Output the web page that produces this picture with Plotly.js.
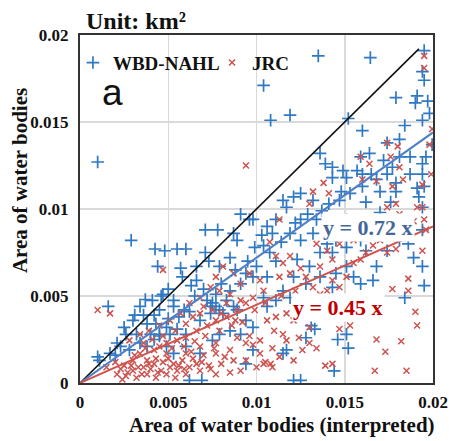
<!DOCTYPE html>
<html>
<head>
<meta charset="utf-8">
<script src="https://cdn.plot.ly/plotly-3.0.1.min.js"></script>
<style>html,body{margin:0;padding:0;background:#fff;}#chart{width:463px;height:441px;}</style>
</head>
<body>
<div id="chart"></div>
<script>
// WBD-NAHL points (x = interpreted area, y = dataset area), km²
const wbdX = [
0.0010,0.0135,0.01645,0.0195,0.0104,0.0108,0.0119,0.0152,0.0179,0.0191,
0.0190,0.0195,0.0194,0.0197,0.0198,0.0194,0.0160,0.0184,0.01995,0.0196,
0.0194,0.0194,0.0195,0.0194,0.0194,0.0194,0.0195,0.0184,0.0189,0.0186,
0.0181,0.0029,0.0016,0.0010,
0.00425,0.0055,0.0060,0.0044,0.0057,0.0071,0.0078,0.0091,0.0087,0.0089,
0.0071,0.0073,0.0079,0.0085,0.0066,0.0058,0.0047,0.0041,0.0053,0.0034,
0.0045,0.0053,0.0059,0.0030,0.0038,0.0043,0.0049,0.0055,0.0026,0.0032,
0.0040,0.0045,0.0051,0.0034,0.0028,0.0023,0.0021,0.0017,0.0011,0.0038,
0.0042,0.0060,0.0068,0.0074,0.0077,0.0081,0.0087,0.0072,0.0085,0.0091,
0.0098,0.0106,0.0094,0.0100,0.0111,0.01075,0.0104,0.0109,0.0106,0.0098,
0.0111,0.0117,0.0115,0.0121,0.0125,0.0132,0.0129,0.0134,0.0125,0.0119,
0.0125,0.0132,0.0140,0.0143,0.0136,0.0123,0.0130,0.0136,0.0145,0.0143,
0.0128,0.0121,0.0115,0.0151,0.0155,0.0159,0.0166,0.0168,0.0162,0.0159,
0.0151,0.0145,0.0164,0.0174,0.0147,0.0153,0.0160,0.0168,0.0174,0.0177,
0.0181,0.0174,0.0181,0.0159,0.0164,0.0157,0.0160,0.0149,0.0143,0.0139,
0.0136,0.0143,0.0151,0.0172,0.0187,0.0187,0.0179,0.0176,0.0170,0.0162,
0.0151,0.0179,0.0170,0.0191,0.0192,
0.0098,0.0094,0.0121,0.0125,0.0062,0.0069,0.0144,0.0146,0.0151,0.0152,
0.0131,0.0133,0.0128,0.0117,0.0115,0.0106,0.0111,0.0104,0.0119,0.0094,
0.0085,0.0075,0.0079,0.0091,0.0098,0.0068,0.0060,0.0053,0.0049,0.0045,
0.0075,0.0079,0.0074,0.0089,0.0083,0.0077,0.0020,0.0036,0.0046,0.0063,
0.0050,0.0066,0.0048,0.0096,
0.0025,0.0031,0.0037,0.0042,0.0050,0.0056,0.0062,0.0065,0.0070,0.0080,
0.0088,0.0095,0.0099,0.0103,0.0114,0.0122,0.0137,0.0141,0.0148,0.0165
];
const wbdY = [
0.0127,0.0188,0.0187,0.0191,0.0171,0.0151,0.0154,0.0152,0.0164,0.0165,
0.0161,0.0174,0.0179,0.0162,0.0155,0.0151,0.0145,0.0148,0.0137,0.0130,
0.0126,0.0120,0.0113,0.0101,0.0088,0.0067,0.0056,0.0049,0.0072,0.0080,
0.0082,0.0082,0.0044,0.0015,
0.0077,0.0077,0.0077,0.0067,0.0066,0.0088,0.0088,0.0097,0.0086,0.0082,
0.0075,0.0070,0.0067,0.0072,0.0067,0.0061,0.0051,0.00475,0.00475,0.0044,
0.0042,0.0044,0.0042,0.0036,0.0034,0.0034,0.0032,0.0031,0.0028,0.0028,
0.0028,0.0028,0.0028,0.0023,0.0019,0.0021,0.0023,0.0017,0.0013,0.0021,
0.0025,0.0028,0.0036,0.0044,0.0044,0.0040,0.0044,0.00475,0.0053,0.0057,
0.0061,0.0061,0.0063,0.0067,0.0070,0.0075,0.0079,0.0086,0.0090,0.0094,
0.0094,0.0101,0.0105,0.0107,0.0109,0.0105,0.0097,0.0094,0.0094,0.0086,
0.0082,0.0086,0.0080,0.0075,0.0075,0.0071,0.0067,0.0061,0.0063,0.0055,
0.0057,0.0061,0.0053,0.0067,0.0061,0.0057,0.0059,0.0067,0.0076,0.0082,
0.0078,0.0082,0.0086,0.0076,0.0105,0.0109,0.0113,0.0117,0.0120,0.0124,
0.0130,0.0138,0.0140,0.0130,0.0132,0.0122,0.0120,0.0122,0.0118,0.0126,
0.0132,0.0124,0.0118,0.0128,0.0130,0.0120,0.0110,0.0104,0.0098,0.0104,
0.0094,0.0115,0.0110,0.0112,0.0107,
0.0019,0.0011,0.00015,0.00015,0.00015,0.00015,0.0007,0.0025,0.0028,0.0020,
0.0033,0.0031,0.0026,0.0019,0.0017,0.0044,0.00475,0.0049,0.0049,0.0036,
0.0030,0.00245,0.0028,0.0028,0.0032,0.0017,0.0021,0.0017,0.0021,0.0027,
0.0046,0.0042,0.0040,0.0042,0.00475,0.0051,0.0016,0.0039,0.0050,0.0056,
0.0054,0.0059,0.0076,0.0094,
0.0032,0.0039,0.0048,0.0039,0.0037,0.0038,0.0041,0.0050,0.0054,0.0057,
0.0065,0.0070,0.0078,0.0085,0.0081,0.0092,0.0099,0.0103,0.0110,0.0120
];
// JRC points
const jrcX = [
0.0010,0.0017,0.0094,0.0047,0.0195,0.0195,0.01995,0.0198,0.0199,0.0194,
0.0191,0.0194,0.0195,0.0196,0.0194,0.0186,0.0186,0.0177,0.0190,0.0191,
0.0168,0.0182,0.0173,0.0167,0.0185,0.0143,0.0139,0.0153,0.0147,0.0130,
0.0124,0.0130,0.0121,0.0104,0.0108,0.0109,0.0100,0.0091,0.0085,0.0077,
0.0068,0.0060,0.0055,0.0049,0.0043,0.0038,0.0032,0.0026,0.0021,0.0015,
0.0030,0.0036,0.0042,0.0047,0.0053,0.0058,0.0064,0.0070,0.0077,0.0085,
0.0094,0.0102,0.0110,0.0115,0.0043,0.0038,0.0030,0.0025,0.0034,0.0042,
0.0049,0.0055,0.0060,0.0066,0.0072,0.0077,0.0083,0.0089,0.0094,0.0098,
0.0104,0.0102,0.0096,0.0091,0.0085,0.0079,0.0074,0.0068,0.0062,0.0057,
0.0051,0.0045,0.0039,0.0034,0.0028,0.0060,0.0068,0.0075,0.0083,0.0091,
0.0106,0.0111,0.0117,0.0109,0.0117,0.0102,0.0087,0.0094,0.0060,0.0049,
0.0068,0.0077,0.0113,0.0119,0.0115,0.0111,0.01075,0.0113,0.0119,0.0125,
0.0128,0.0132,0.0136,0.0140,0.0143,0.0147,0.0151,0.0155,0.0159,0.0162,
0.0166,0.0143,0.0140,0.0147,0.0155,0.0134,0.0136,0.0125,0.0121,0.0136,
0.0130,0.0132,0.0138,0.0141,0.0159,0.0164,0.0160,0.0168,0.0174,0.0180,
0.0176,0.0181,0.0183,0.0177,0.0174,0.0181,0.0177,0.0170,0.0174,0.0179,
0.0189,0.0187,0.0179,0.0077,0.0087,0.0081,
0.0023,0.0029,0.0035,0.0040,0.0046,0.0051,0.0056,0.0062,0.0066,0.0073,
0.0080,0.0031,0.0037,0.0045,0.0052,0.0059,0.0065,0.0071,0.0079,0.0086,
0.0092,0.0041,0.0098,0.0126,0.0113,0.0105,
0.0024,0.0027,0.0033,0.0039,0.0044,0.0050,0.0054,0.0059,0.0063,0.0069,
0.0074,0.0076,0.0082,0.0089,0.0096,0.0020,0.0036,0.0047,0.0054,0.0064,
0.0070,0.0080,0.0088,0.0099,0.0105,0.0114,0.0122,0.0129,0.0134,0.0146
];
const jrcY = [
0.0042,0.0040,0.0125,0.0065,0.0188,0.0181,0.0146,0.0137,0.0120,0.0114,
0.0101,0.0101,0.0094,0.0088,0.0076,0.0060,0.0053,0.0054,0.0041,0.0033,
0.0025,0.0024,0.0018,0.0007,0.0007,0.0011,0.0010,0.0033,0.0031,0.0032,
0.0026,0.0023,0.0013,0.0011,0.0011,0.0009,0.0009,0.0007,0.0006,0.0005,
0.0007,0.0005,0.0007,0.0005,0.0003,0.0005,0.0003,0.0004,0.0005,0.0009,
0.0007,0.0009,0.0011,0.0012,0.0011,0.0013,0.0014,0.0016,0.0017,0.0019,
0.0023,0.00245,0.0030,0.0028,0.0014,0.0013,0.0013,0.0010,0.0017,0.0019,
0.0023,0.00245,0.0026,0.0030,0.0033,0.0036,0.0038,0.0042,0.0046,0.0049,
0.0053,0.0059,0.0063,0.0057,0.0051,0.0053,0.0055,0.0049,0.0046,0.0040,
0.0036,0.0033,0.0030,0.0028,0.00245,0.0034,0.0040,0.0042,0.0046,0.00475,
0.0036,0.0038,0.0040,0.0020,0.00245,0.0017,0.0013,0.0013,0.0017,0.0017,
0.0021,0.0023,0.0061,0.0063,0.0069,0.0073,0.0081,0.0094,0.0073,0.0066,
0.0061,0.0055,0.0051,0.0053,0.0059,0.0055,0.0061,0.0069,0.0071,0.0075,
0.0079,0.0071,0.0076,0.0080,0.0082,0.0080,0.0067,0.0040,0.0036,0.0040,
0.0103,0.0110,0.0115,0.0109,0.0130,0.0126,0.0117,0.0116,0.0138,0.0136,
0.0130,0.0124,0.0117,0.0113,0.0101,0.0097,0.0086,0.0082,0.0075,0.0077,
0.0093,0.0086,0.0103,0.0061,0.0063,0.0067,
0.0008,0.0010,0.0005,0.0008,0.0007,0.0009,0.0010,0.0009,0.0011,0.0010,
0.0011,0.0016,0.0020,0.0021,0.0020,0.0021,0.0024,0.0027,0.0030,0.0033,
0.0035,0.0025,0.0022,0.0019,0.0015,0.0012,
0.0002,0.0006,0.0009,0.0011,0.0006,0.0014,0.0003,0.0008,0.0018,0.0012,
0.0008,0.0020,0.0015,0.0026,0.0027,0.0012,0.0023,0.0027,0.0030,0.0038,
0.0044,0.0040,0.0036,0.0042,0.0046,0.0050,0.0053,0.0046,0.0020,0.0043
];
// 1:1 reference line and fitted lines
const refX = [0, 0.0192];
const refY = [0, 0.0192];
const fitX = [0, 0.02];
const fitWbdY = [0, 0.0144];
const fitJrcY = [0, 0.0090];
const tickVals = [0, 0.005, 0.01, 0.015, 0.02];
const tickText = ['0', '0.005', '0.01', '0.015', '0.02'];

const serif = 'Liberation Serif, Times New Roman, serif';
const blue = '#2f78c2';
const red = '#cc5450';

const traces = [
  {x: wbdX, y: wbdY, type: 'scatter', mode: 'markers', name: 'WBD-NAHL', legend: 'legend',
   marker: {symbol: 'cross-thin', size: 9, color: blue, line: {color: blue, width: 1.7}}},
  {x: jrcX, y: jrcY, type: 'scatter', mode: 'markers', name: 'JRC', legend: 'legend2',
   marker: {symbol: 'x-thin', size: 6, color: red, line: {color: red, width: 1.5}}},
  {x: refX, y: refY, type: 'scatter', mode: 'lines', showlegend: false,
   line: {color: '#111111', width: 1.6}},
  {x: fitX, y: fitWbdY, type: 'scatter', mode: 'lines', showlegend: false,
   line: {color: '#4f7fc4', width: 2}},
  {x: fitX, y: fitJrcY, type: 'scatter', mode: 'lines', showlegend: false,
   line: {color: '#d0524c', width: 2}}
];

const axisCommon = {
  range: [0, 0.02], tickvals: tickVals, ticktext: tickText,
  showgrid: true, gridcolor: '#d9d9d9', gridwidth: 1.5,
  zeroline: false, showline: true, mirror: true, linecolor: '#333333', linewidth: 2,
  ticks: '', tickfont: {family: serif, size: 17, color: '#111', weight: 700}
};

const legendFont = {family: serif, size: 19, color: '#111', weight: 700};

const layout = {
  width: 463, height: 441,
  margin: {l: 80, r: 30, t: 35, b: 58},
  paper_bgcolor: '#fff', plot_bgcolor: '#fff',
  xaxis: Object.assign({}, axisCommon, {ticklabelstandoff: 3}),
  yaxis: Object.assign({}, axisCommon, {ticklabelstandoff: 6}),
  showlegend: true,
  legend: {orientation: 'h', x: -0.02, xanchor: 'left', y: 0.975, yanchor: 'top',
    bgcolor: 'rgba(0,0,0,0)', font: legendFont},
  legend2: {orientation: 'h', x: 0.374, xanchor: 'left', y: 0.975, yanchor: 'top',
    bgcolor: 'rgba(0,0,0,0)', font: legendFont},
  annotations: [
    {text: 'Unit: km²', xref: 'paper', yref: 'paper', x: 0.01, y: 1.04, xanchor: 'left', yanchor: 'middle',
     showarrow: false, font: {family: serif, size: 24, color: '#111', weight: 700}},
    {text: 'a', xref: 'paper', yref: 'paper', x: 0.058, y: 0.834, xanchor: 'left', yanchor: 'middle',
     showarrow: false, font: {family: 'Liberation Sans, Arial, sans-serif', size: 37, color: '#111'}},
    {text: 'y = 0.72 x', xref: 'paper', yref: 'paper', x: 0.816, y: 0.448, xanchor: 'center', yanchor: 'middle',
     showarrow: false, bgcolor: '#fff', font: {family: serif, size: 22, color: '#44679a', weight: 700}},
    {text: 'y = 0.45 x', xref: 'paper', yref: 'paper', x: 0.731, y: 0.216, xanchor: 'center', yanchor: 'middle',
     showarrow: false, bgcolor: '#fff', font: {family: serif, size: 22, color: '#c00000', weight: 700}},
    {text: 'Area of water bodies (interpreted)', xref: 'paper', yref: 'paper', x: 0.572, y: -0.121,
     xanchor: 'center', yanchor: 'middle', showarrow: false,
     font: {family: serif, size: 21, color: '#111', weight: 700}},
    {text: 'Area of water bodies', xref: 'paper', yref: 'paper', x: -0.17, y: 0.583,
     xanchor: 'center', yanchor: 'middle', textangle: -90, showarrow: false,
     font: {family: serif, size: 21, color: '#111', weight: 700}}
  ]
};

Plotly.newPlot('chart', traces, layout, {displayModeBar: false, staticPlot: true});
</script>
</body>
</html>
